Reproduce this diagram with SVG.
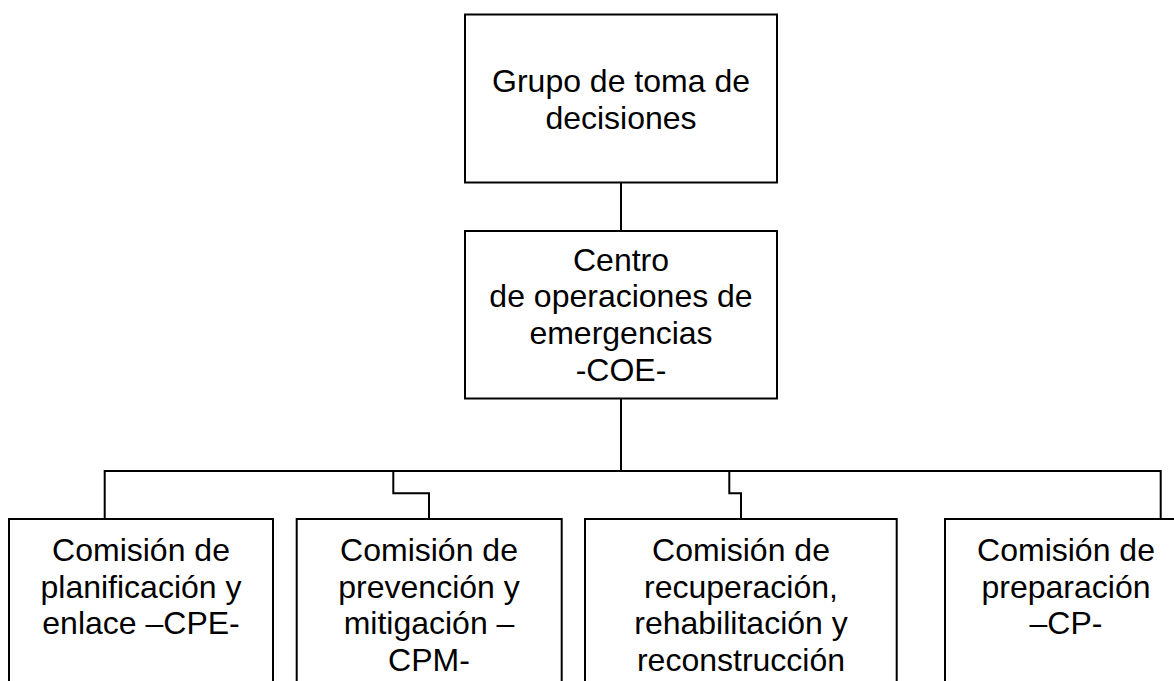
<svg xmlns="http://www.w3.org/2000/svg" width="1174" height="681" viewBox="0 0 1174 681">
<style>
.box{fill:#fff;stroke:#000;stroke-width:2}
.ln{fill:none;stroke:#000;stroke-width:2}
text{font-family:"Liberation Sans",Arial,sans-serif;font-size:32px;fill:#000;text-anchor:middle}
</style>
<rect width="1174" height="681" fill="#fff"/>
<g id="connectors">
<line class="ln" x1="621" y1="183" x2="621" y2="231"/>
<line class="ln" x1="621" y1="399" x2="621" y2="471"/>
<polyline class="ln" points="104.7,519 104.7,471 1160.7,471 1160.7,519"/>
<polyline class="ln" points="393.3,471 393.3,493.3 429,493.3 429,519"/>
<polyline class="ln" points="729.3,471 729.3,493.3 741,493.3 741,519"/>
</g>
<g id="grupo">
<rect class="box" x="465" y="14.5" width="312" height="168"/>
<text x="621" y="92">Grupo de toma de</text>
<text x="621" y="128.5">decisiones</text>
</g>
<g id="coe">
<rect class="box" x="465" y="231" width="312" height="167.5"/>
<text x="621" y="270.7">Centro</text>
<text x="621" y="307.3">de operaciones de</text>
<text x="621" y="344">emergencias</text>
<text x="621" y="380.7">-COE-</text>
</g>
<g id="cpe">
<rect class="box" x="9" y="519" width="264" height="200"/>
<text x="141" y="561">Comisión de</text>
<text x="141" y="597.7">planificación y</text>
<text x="141" y="634.3">enlace –CPE-</text>
</g>
<g id="cpm">
<rect class="box" x="296.7" y="519" width="265" height="200"/>
<text x="429" y="561">Comisión de</text>
<text x="429" y="597.7">prevención y</text>
<text x="429" y="634.3">mitigación –</text>
<text x="429" y="671">CPM-</text>
</g>
<g id="crr">
<rect class="box" x="585" y="519" width="311.7" height="200"/>
<text x="741" y="561">Comisión de</text>
<text x="741" y="597.7">recuperación,</text>
<text x="741" y="634.3">rehabilitación y</text>
<text x="741" y="671">reconstrucción</text>
</g>
<g id="cp">
<rect class="box" x="945" y="519" width="242" height="200"/>
<text x="1066" y="561">Comisión de</text>
<text x="1066" y="597.7">preparación</text>
<text x="1066" y="634.3">–CP-</text>
</g>
</svg>
